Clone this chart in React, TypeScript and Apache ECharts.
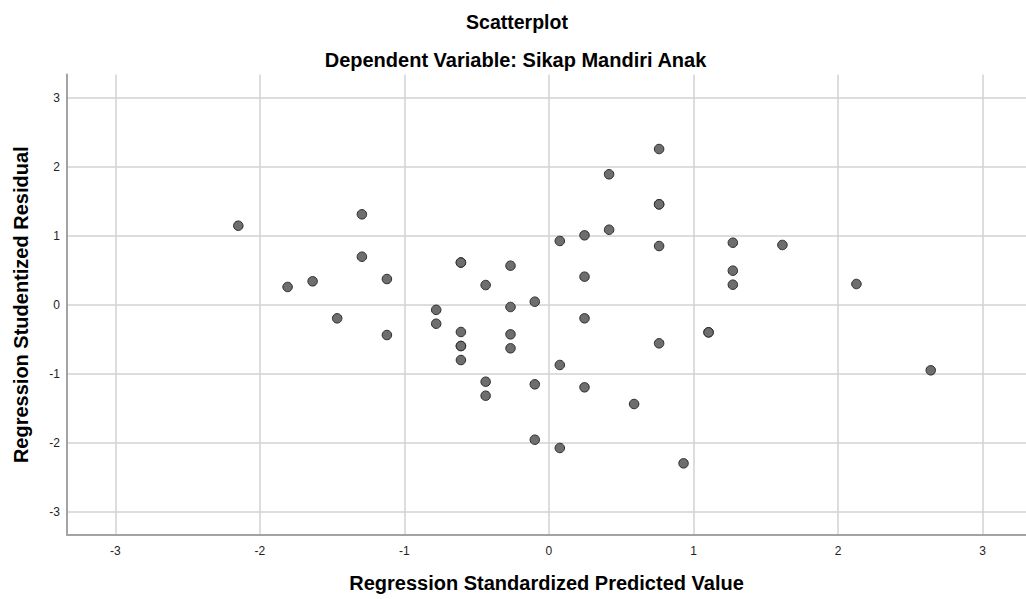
import React, { useEffect, useRef } from "react";
import * as echarts from "echarts";

const chartTitle = "Scatterplot";
const chartSubtitle = "Dependent Variable: Sikap Mandiri Anak";
const xAxisName = "Regression Standardized Predicted Value";
const yAxisName = "Regression Studentized Residual";
const tickValues = [-3, -2, -1, 0, 1, 2, 3];

// Regression standardized predicted values (x)
const predicted = [
  -2.149, -1.294, -1.294, -1.808, -1.635, -1.121, -1.465, -1.121,
  -0.609, -0.609, -0.438, -0.78, -0.78, -0.609, -0.609, -0.609, -0.609,
  -0.266, -0.266, -0.266, -0.266, -0.098, 0.075, 0.246, 0.416, 0.416,
  0.762, 0.762, 0.762, 0.762, 0.246, 0.246, 0.762, 1.104, 1.104,
  1.272, 1.272, 1.272, 1.615, 2.127, 2.641, -0.438, -0.438, -0.098,
  0.075, 0.246, 0.589, -0.098, 0.075, 0.931,
];
// Regression studentized residuals (y)
const residual = [
  1.146, 1.311, 0.697, 0.259, 0.341, 0.374, -0.195, -0.437,
  0.613, 0.613, 0.287, -0.072, -0.273, -0.393, -0.596, -0.596, -0.799,
  0.567, -0.031, -0.427, -0.629, 0.046, 0.925, 1.007, 1.088, 1.891,
  2.257, 1.456, 1.456, 0.852, 0.408, -0.195, -0.557, -0.398, -0.398,
  0.9, 0.495, 0.292, 0.867, 0.302, -0.948, -1.113, -1.316, -1.151,
  -0.871, -1.194, -1.436, -1.953, -2.073, -2.295,
];

const FONT = "'Liberation Sans', Arial, sans-serif";

export default function App() {
  const ref = useRef<HTMLDivElement>(null);

  useEffect(() => {
    if (!ref.current) return;
    const chart = echarts.init(ref.current, null, { renderer: "svg" });
    const data = predicted.map((x, i) => [x, residual[i]]);
    chart.setOption({
      animation: false,
      backgroundColor: "#ffffff",
      textStyle: { fontFamily: FONT },
      graphic: [
        {
          type: "text",
          x: 517,
          y: 22,
          style: {
            text: chartTitle,
            font: `bold 19.5px ${FONT}`,
            fill: "#000000",
            textAlign: "center",
            textVerticalAlign: "middle",
          },
        },
        {
          type: "text",
          x: 515.5,
          y: 59.5,
          style: {
            text: chartSubtitle,
            font: `bold 20px ${FONT}`,
            fill: "#000000",
            textAlign: "center",
            textVerticalAlign: "middle",
          },
        },
      ],
      grid: { left: 67, top: 74.5, right: 0, bottom: 64, containLabel: false },
      xAxis: {
        type: "value",
        min: -3.334,
        max: 3.3,
        name: xAxisName,
        nameLocation: "middle",
        nameGap: 38,
        nameTextStyle: { fontFamily: FONT, fontSize: 20, fontWeight: "bold", color: "#000" },
        axisLine: { show: true, onZero: false, lineStyle: { color: "#a3a3a3", width: 2 } },
        axisTick: { show: false, customValues: tickValues },
        axisLabel: {
          customValues: tickValues,
          fontFamily: FONT,
          fontSize: 12,
          color: "#222",
          margin: 10,
        },
        splitLine: { show: true, lineStyle: { color: "#d2d2d2", width: 1.5 } },
      },
      yAxis: {
        type: "value",
        min: -3.333,
        max: 3.336,
        name: yAxisName,
        nameLocation: "middle",
        nameGap: 36,
        nameRotate: 90,
        nameTextStyle: { fontFamily: FONT, fontSize: 20, fontWeight: "bold", color: "#000" },
        axisLine: { show: true, onZero: false, lineStyle: { color: "#a3a3a3", width: 2 } },
        axisTick: { show: false, customValues: tickValues },
        axisLabel: {
          customValues: tickValues,
          fontFamily: FONT,
          fontSize: 12,
          color: "#222",
          margin: 7,
        },
        splitLine: { show: true, lineStyle: { color: "#d2d2d2", width: 1.5 } },
      },
      series: [
        {
          type: "scatter",
          data,
          symbol: "circle",
          symbolSize: 9.5,
          itemStyle: { color: "#6e6e6e", borderColor: "#2b2b2b", borderWidth: 1, opacity: 1 },
          emphasis: { disabled: true },
        },
      ],
    });
    return () => chart.dispose();
  }, []);

  return (
    <div
      ref={ref}
      style={{ position: "fixed", left: 0, top: 0, width: 1026, height: 599, background: "#fff" }}
    />
  );
}
